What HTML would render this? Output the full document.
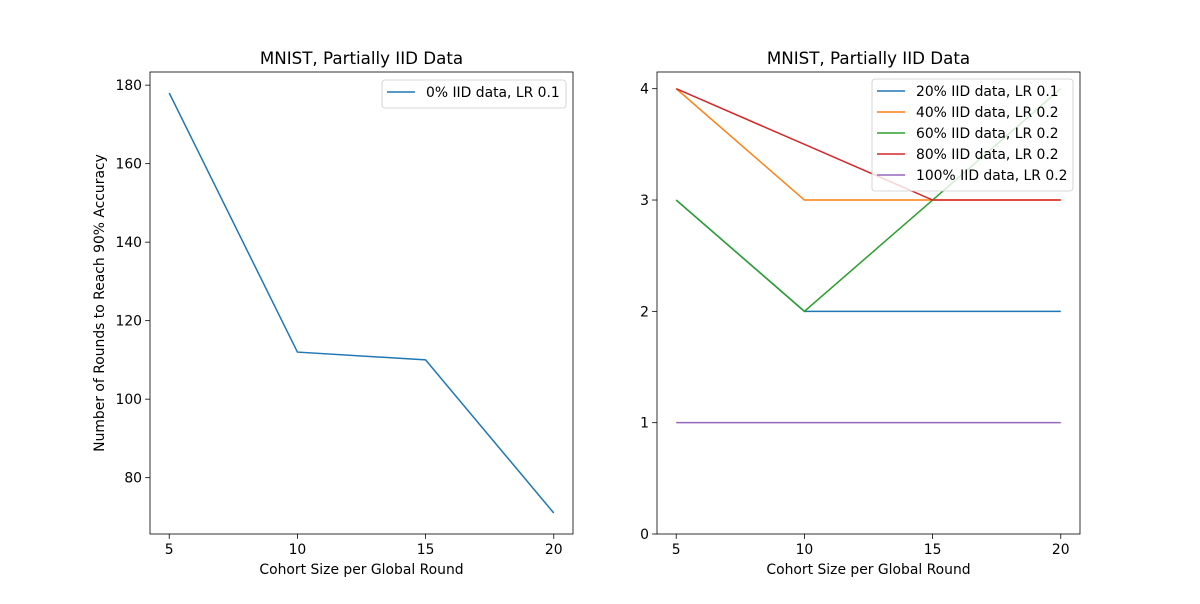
<!DOCTYPE html>
<html><head><meta charset="utf-8"><style>
body{margin:0;background:#fff;font-family:"DejaVu Sans","Liberation Sans",sans-serif}
svg text{font-family:"DejaVu Sans","Liberation Sans",sans-serif}
</style></head><body>
<svg id="c" width="1200" height="600" xmlns="http://www.w3.org/2000/svg"></svg>
<script>
const xCats=[5,10,15,20];
const leftVals=[178,112,110,71];
const leftTicks=[80,100,120,140,160,180];
const rightTicks=[0,1,2,3,4];
const s20=[3,2,2,2];
const s40=[4,3,3,3];
const s60=[3,2,3,4];
const s80=[4,3.5,3,3];
const s100=[1,1,1,1];
const leftLabels=["0% IID data, LR 0.1"];
const rightLabels=["20% IID data, LR 0.1","40% IID data, LR 0.2","60% IID data, LR 0.2","80% IID data, LR 0.2","100% IID data, LR 0.2"];
const colors=["#1f77b4","#ff7f0e","#2ca02c","#d62728","#9467bd"];
const svg=document.getElementById('c');
const NS="http://www.w3.org/2000/svg";
function mk(t,a,p){const e=document.createElementNS(NS,t);for(const k in a)e.setAttribute(k,a[k]);(p||svg).appendChild(e);return e;}
function panel(x0,x1,y0,y1,ymin,ymax,yt,series,labels,cols,name,ylab,leg){
  const g=mk('g',{});
  
  
  const xs=v=>x0+(x1-x0)*(v-4.25)/(20.75-4.25);
  const ys=v=>y1-(y1-y0)*(v-ymin)/(ymax-ymin);
  series.forEach((s,i)=>{
    const p=mk('polyline',{points:s.map((v,j)=>xs(xCats[j])+','+ys(v)).join(' '),fill:'none',stroke:cols[i],'stroke-width':1.5},g);
    
    
  });
  mk('rect',{x:x0,y:y0,width:x1-x0,height:y1-y0,fill:'none',stroke:'#000','stroke-width':0.8},g);
  xCats.forEach(v=>{const x=xs(v);mk('line',{x1:x,x2:x,y1:y1,y2:y1+4.9,stroke:'#000','stroke-width':0.8},g);
    const t=mk('text',{x:x,y:y1+20,'font-size':13.9,'text-anchor':'middle'},g);t.textContent=v;
    });
  yt.forEach(v=>{const y=ys(v);mk('line',{x1:x0-4.9,x2:x0,y1:y,y2:y,stroke:'#000','stroke-width':0.8},g);
    const t=mk('text',{x:x0-8,y:y+5,'font-size':13.9,'text-anchor':'end'},g);t.textContent=v;
    });
  const tt=mk('text',{x:(x0+x1)/2,y:y0-8,'font-size':16.7,'text-anchor':'middle'},g);tt.textContent="MNIST, Partially IID Data";
  
  const xl=mk('text',{x:(x0+x1)/2,y:574,'font-size':13.9,'text-anchor':'middle'},g);xl.textContent="Cohort Size per Global Round";
  
  if(ylab){const yl=mk('text',{x:0,y:0,'font-size':13.9,'text-anchor':'middle',transform:`translate(104,${(y0+y1)/2}) rotate(-90)`},g);yl.textContent=ylab;
    }
  const lg=mk('g',{},g);
  
  mk('rect',{x:leg.x,y:leg.y,width:leg.w,height:7+labels.length*21,rx:3,fill:'rgba(255,255,255,0.8)',stroke:'#ccc','stroke-width':0.8},lg);
  labels.forEach((l,i)=>{const yy=leg.y+12+i*21;
    mk('line',{x1:leg.x+5,x2:leg.x+33,y1:yy,y2:yy,stroke:cols[i],'stroke-width':1.5},lg);
    const t=mk('text',{x:leg.x+44,y:yy+5,'font-size':13.9},lg);t.textContent=l;
    });
}
panel(150,573,72,534,65.65,183.35,leftTicks,[leftVals],leftLabels,[colors[0]],'left-panel',"Number of Rounds to Reach 90% Accuracy",{x:382,y:80,w:184});
panel(657,1080,72,534,0,4.15,rightTicks,[s20,s40,s60,s80,s100],rightLabels,colors,'right-panel',null,{x:872,y:79,w:201});
</script>
</body></html>
